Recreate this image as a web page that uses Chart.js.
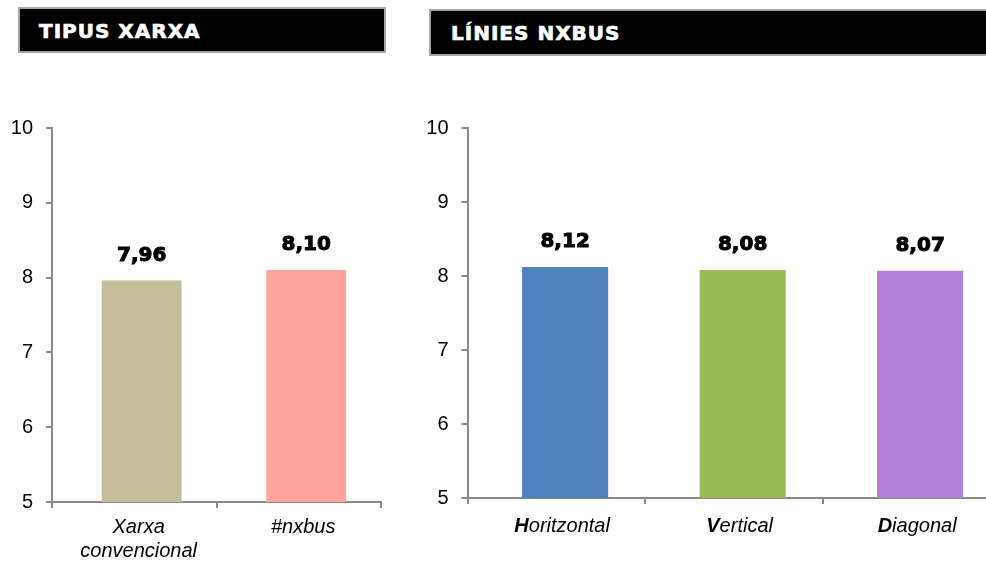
<!DOCTYPE html>
<html>
<head>
<meta charset="utf-8">
<script src="https://cdn.jsdelivr.net/npm/chart.js@4.4.1/dist/chart.umd.min.js"></script>
<style>
    body {
        margin: 0;
        width: 986px;
        height: 563px;
        overflow: hidden;
        background: #fff;
        position: relative;
        font-family: "Liberation Sans", Arial, sans-serif;
    }
    .header {
        position: absolute;
        box-sizing: border-box;
        background: #000;
        border: 2px solid #a6a6a6;
        color: #fff;
        font-family: "DejaVu Sans", sans-serif;
        font-weight: bold;
        font-size: 20px;
        letter-spacing: 1px;
        -webkit-text-stroke: 0.7px #fff;
    }
    #header-left { left: 18px; top: 7px; width: 368px; height: 46px; line-height: 44px; padding-left: 19px; }
    #header-right { left: 429px; top: 9px; width: 600px; height: 47px; line-height: 45px; padding-left: 20px; }
    .chart-box { position: absolute; top: 100px; height: 463px; }
    #box-left { left: 0; width: 400px; }
    #box-right { left: 410px; width: 590px; }
</style>
</head>
<body>
<div class="header" id="header-left">TIPUS XARXA</div>
<div class="header" id="header-right">LÍNIES NXBUS</div>
<div class="chart-box" id="box-left"><canvas id="chart-left" width="400" height="463"></canvas></div>
<div class="chart-box" id="box-right"><canvas id="chart-right" width="590" height="463"></canvas></div>
<script>
// Data
const networkCategories = [['Xarxa', 'convencional'], ['#nxbus']];
const networkValues = [7.96, 8.10];
const networkColors = ['#c4bd97', '#ffa29a'];

const lineCategories = ['Horitzontal', 'Vertical', 'Diagonal'];
const lineValues = [8.12, 8.08, 8.07];
const lineColors = ['#4f81bd', '#9bbb59', '#b07fd6'];

const yMin = 5;
const yMax = 10;
const yTicks = [5, 6, 7, 8, 9, 10];

const axisColor = '#888888';

function formatValue(v) {
    return v.toFixed(2).replace('.', ',');
}

// Value labels above the bars
const valueLabels = {
    id: 'valueLabels',
    afterDatasetsDraw(chart) {
        const ctx = chart.ctx;
        const meta = chart.getDatasetMeta(0);
        ctx.save();
        ctx.font = 'bold 20px "DejaVu Sans"';
        ctx.fillStyle = '#000';
        ctx.strokeStyle = '#000';
        ctx.lineWidth = 1;
        ctx.textAlign = 'center';
        ctx.textBaseline = 'middle';
        meta.data.forEach((bar, i) => {
            const text = formatValue(chart.data.datasets[0].data[i].y);
            ctx.fillText(text, bar.x, bar.y - 25);
            ctx.strokeText(text, bar.x, bar.y - 25);
        });
        ctx.restore();
    }
};

// Category labels below the x axis (multi-line / bold initial)
const categoryLabels = {
    id: 'categoryLabels',
    afterDraw(chart, args, opts) {
        const ctx = chart.ctx;
        const xScale = chart.scales.x;
        const top = chart.chartArea.bottom + opts.offset;
        ctx.save();
        ctx.fillStyle = '#000';
        ctx.textBaseline = 'middle';
        opts.labels.forEach((label, i) => {
            const x = xScale.getPixelForValue(i) - 3;
            const lines = Array.isArray(label) ? label : [label];
            lines.forEach((line, j) => {
                const y = top + j * 24;
                if (opts.boldInitial) {
                    const first = line.charAt(0);
                    const rest = line.slice(1);
                    ctx.font = 'italic bold 20px "Liberation Sans"';
                    const w1 = ctx.measureText(first).width;
                    ctx.font = 'italic 20px "Liberation Sans"';
                    const w2 = ctx.measureText(rest).width;
                    const start = x - (w1 + w2) / 2;
                    ctx.textAlign = 'left';
                    ctx.font = 'italic bold 20px "Liberation Sans"';
                    ctx.fillText(first, start, y);
                    ctx.font = 'italic 20px "Liberation Sans"';
                    ctx.fillText(rest, start + w1, y);
                } else {
                    ctx.textAlign = 'center';
                    ctx.font = 'italic 20px "Liberation Sans"';
                    ctx.fillText(line, x, y);
                }
            });
        });
        ctx.restore();
    }
};

// barShift: bars sit a little right of the middle of each category slot
function buildChart(canvasId, categories, values, colors, barShift, yWidth, xHeight, padding, labelOffset, boldInitial) {
    const ctx = document.getElementById(canvasId).getContext('2d');
    const xMin = -0.5 - barShift;
    const xMax = values.length - 0.5 - barShift;
    return new Chart(ctx, {
        type: 'bar',
        data: {
            datasets: [{
                data: values.map((v, i) => ({ x: i, y: v })),
                backgroundColor: colors,
                borderWidth: 0,
                categoryPercentage: 1,
                barPercentage: 0.485
            }]
        },
        options: {
            responsive: false,
            animation: false,
            layout: { padding: padding },
            plugins: {
                legend: { display: false },
                tooltip: { enabled: false },
                categoryLabels: { labels: categories, offset: labelOffset, boldInitial: boldInitial }
            },
            scales: {
                x: {
                    type: 'linear',
                    offset: false,
                    min: xMin,
                    max: xMax,
                    afterBuildTicks(scale) {
                        const t = [];
                        for (let k = 0; k <= values.length; k++) t.push({ value: xMin + k });
                        scale.ticks = t;
                    },
                    grid: {
                        offset: false,
                        drawOnChartArea: false,
                        drawTicks: true,
                        tickLength: 6,
                        color: axisColor,
                        lineWidth: 2
                    },
                    border: { color: axisColor, width: 2 },
                    ticks: { display: false },
                    afterFit(scale) { scale.height = xHeight; }
                },
                y: {
                    min: yMin,
                    max: yMax,
                    afterBuildTicks(scale) { scale.ticks = yTicks.map(v => ({ value: v })); },
                    grid: {
                        drawOnChartArea: false,
                        drawTicks: true,
                        tickLength: 6,
                        color: axisColor,
                        lineWidth: 2
                    },
                    border: { color: axisColor, width: 2 },
                    ticks: {
                        color: '#000',
                        padding: 13,
                        font: { family: 'Liberation Sans', size: 20 }
                    },
                    afterFit(scale) { scale.width = yWidth; }
                }
            }
        },
        plugins: [valueLabels, categoryLabels]
    });
}

document.addEventListener('DOMContentLoaded', function() {
    buildChart('chart-left', networkCategories, networkValues, networkColors, 0.045,
        52, 61, { top: 28, right: 19, left: 0, bottom: 0 }, 25, false);
    buildChart('chart-right', lineCategories, lineValues, lineColors, 0.05,
        57.5, 65, { top: 28, right: 0, left: 0, bottom: 0 }, 28, true);
});
</script>
</body>
</html>
